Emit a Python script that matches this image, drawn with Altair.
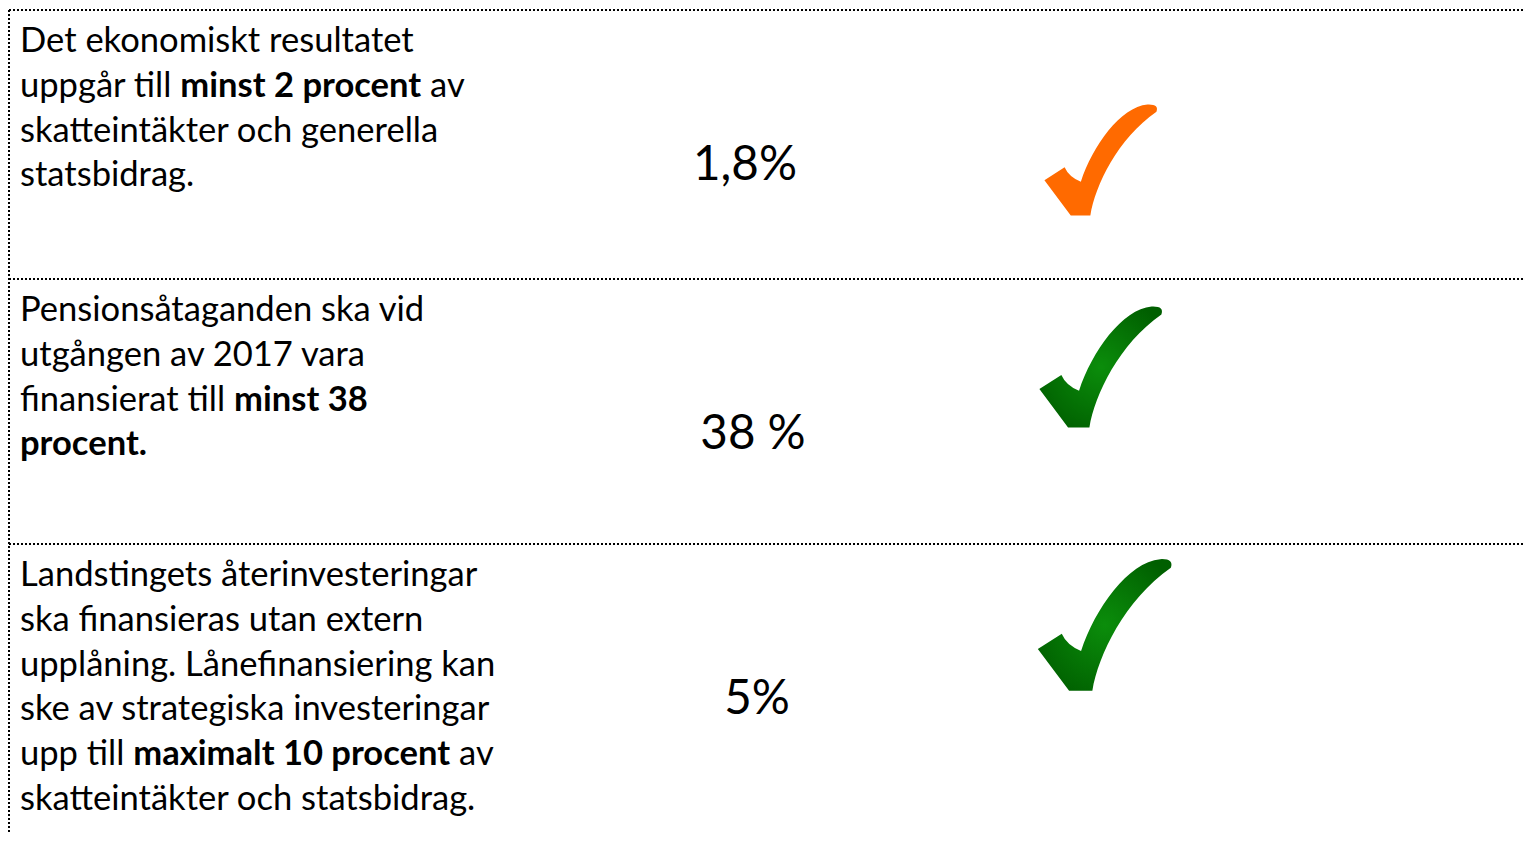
import glob
import os
import altair as alt
import pandas as pd

# ---------------- data ----------------
criterion_1 = ["Det ekonomiskt resultatet",
               "uppgår till **minst 2 procent** av",
               "skatteintäkter och generella",
               "statsbidrag."]
criterion_2 = ["Pensionsåtaganden ska vid",
               "utgången av 2017 vara",
               "finansierat till **minst 38**",
               "**procent.**"]
criterion_3 = ["Landstingets återinvesteringar",
               "ska finansieras utan extern",
               "upplåning. Lånefinansiering kan",
               "ske av strategiska investeringar",
               "upp till **maximalt 10 procent** av",
               "skatteintäkter och statsbidrag."]
criteria = [criterion_1, criterion_2, criterion_3]
outcomes = ["1,8%", "38 %", "5%"]
status = ["delvis uppfyllt", "uppfyllt", "uppfyllt"]

# ---------------- style / layout ----------------
PAGE_MARGIN = 8
W, H = 1531 - 2 * PAGE_MARGIN, 842 - 2 * PAGE_MARGIN
row_top_page = [10, 279, 544]
text_left_page = 20
first_baseline = 42
line_gap = 44.8
value_center_page = [745, 753, 757]
value_baseline = 170
check_center_page = [(1101, 150), (1101, 88), (1105, 81)]
check_width = [112, 122, 133]
ORANGE = "#ff6a00"
GREEN_FILL = alt.RadialGradient(
    gradient="radial", x1=0.5, y1=0.5, x2=0.5, y2=0.5, r1=0, r2=0.6,
    stops=[alt.GradientStop(offset=0, color="#0b8d0b"),
           alt.GradientStop(offset=1, color="#005f00")])
FONT = "Lato"
CHECK = ("M -1.01 0.36 L -0.65 0.13 Q -0.575 0.30 -0.36 0.39 "
         "C -0.15 -0.25 0.35 -0.95 0.83 -0.99 Q 1.04 -1.0 0.99 -0.86 "
         "C 0.30 -0.38 -0.10 0.45 -0.19 0.99 L -0.54 0.99 Z")


def _find(name):
    roots = ["/usr/share/fonts", "/usr/local/share/fonts",
             os.path.expanduser("~/.fonts"), os.path.expanduser("~/.local/share/fonts")]
    for root in roots:
        hits = glob.glob(os.path.join(root, "**", name), recursive=True)
        if hits:
            return hits[0]
    return None


_fonts = None
try:
    from PIL import ImageFont
    _r, _b = _find("Lato-Regular.ttf"), _find("Lato-Bold.ttf")
    if _r and _b:
        _fonts = {False: ImageFont.truetype(_r, 100), True: ImageFont.truetype(_b, 100)}
except Exception:
    _fonts = None


def _fallback(ch):
    if ch in "ijlft.,:;!'| ":
        return 0.25
    if ch in "r":
        return 0.36
    if ch in "sz":
        return 0.42
    if ch in "mw":
        return 0.8
    if ch in "%":
        return 0.85
    if ch.isdigit():
        return 0.58
    if ch.isupper():
        return 0.64
    return 0.53


def text_width(s, bold, size):
    if _fonts:
        return _fonts[bold].getlength(s) * size / 100.0
    return sum(_fallback(c) for c in s) * size * (1.05 if bold else 1.0)


# calibrate font sizes to the reference line widths
_cal = [("Det ekonomiskt resultatet", 391), ("upplåning. Lånefinansiering kan", 478),
        ("skatteintäkter och statsbidrag.", 456)]
TEXT_SIZE = 100 * sum(t for _, t in _cal) / sum(text_width(s, False, 100) for s, _ in _cal)
VALUE_SIZE = 100 * 104 / text_width("1,8%", False, 100)

# ---------------- tables ----------------
seg_rows = []
for r, lines in enumerate(criteria):
    top = row_top_page[r] - PAGE_MARGIN
    for j, line in enumerate(lines):
        y = top + first_baseline + j * line_gap
        x = text_left_page - PAGE_MARGIN
        for k, part in enumerate(line.split("**")):
            if not part:
                continue
            bold = (k % 2 == 1)
            lead = len(part) - len(part.lstrip(" "))
            trail = len(part) - len(part.rstrip(" "))
            body = part.strip(" ")
            x += text_width(" " * lead, bold, TEXT_SIZE)
            seg_rows.append(dict(x=x, y=y, text=body, weight="bold" if bold else "normal"))
            x += text_width(body, bold, TEXT_SIZE) + text_width(" " * trail, bold, TEXT_SIZE)
segs = pd.DataFrame(seg_rows)

vals = pd.DataFrame({
    "x": [c - PAGE_MARGIN for c in value_center_page],
    "y": [t - PAGE_MARGIN + value_baseline for t in row_top_page],
    "text": outcomes,
})

checks = pd.DataFrame({
    "x": [c[0] - PAGE_MARGIN for c in check_center_page],
    "y": [row_top_page[i] - PAGE_MARGIN + check_center_page[i][1] for i in range(3)],
    "status": status,
    "sz": [w * w for w in check_width],
})

sep_rows = [dict(x=1, x2=W, y=t - PAGE_MARGIN, y2=t - PAGE_MARGIN) for t in row_top_page]
sep_rows.append(dict(x=1, x2=1, y=row_top_page[0] - PAGE_MARGIN, y2=H))
seps = pd.DataFrame(sep_rows)

xs = alt.Scale(domain=[0, W], range=[0, W], nice=False, zero=False)
ys = alt.Scale(domain=[0, H], range=[0, H], nice=False, zero=False)

rules = alt.Chart(seps).mark_rule(color="black", strokeWidth=2, strokeDash=[2, 2]).encode(
    x=alt.X("x:Q", scale=xs, axis=None), x2="x2:Q",
    y=alt.Y("y:Q", scale=ys, axis=None), y2="y2:Q")

base_txt = alt.Chart(segs).encode(
    x=alt.X("x:Q", scale=xs, axis=None),
    y=alt.Y("y:Q", scale=ys, axis=None),
    text="text:N")
normal = base_txt.transform_filter("datum.weight == 'normal'").mark_text(
    align="left", baseline="alphabetic", font=FONT, fontSize=TEXT_SIZE, color="black")
bold = base_txt.transform_filter("datum.weight == 'bold'").mark_text(
    align="left", baseline="alphabetic", font=FONT, fontSize=TEXT_SIZE, fontWeight="bold", color="black")

values = alt.Chart(vals).mark_text(
    align="center", baseline="alphabetic", font=FONT, fontSize=VALUE_SIZE, color="black").encode(
    x=alt.X("x:Q", scale=xs, axis=None),
    y=alt.Y("y:Q", scale=ys, axis=None),
    text="text:N")

check_base = alt.Chart(checks).encode(
    x=alt.X("x:Q", scale=xs, axis=None),
    y=alt.Y("y:Q", scale=ys, axis=None),
    size=alt.Size("sz:Q", scale=None, legend=None))
partial_marks = check_base.transform_filter("datum.status == 'delvis uppfyllt'").mark_point(
    shape=CHECK, filled=True, fill=ORANGE, opacity=1, strokeWidth=0)
met_marks = check_base.transform_filter("datum.status == 'uppfyllt'").mark_point(
    shape=CHECK, filled=True, fill=GREEN_FILL, opacity=1, strokeWidth=0)

chart = alt.layer(rules, normal, bold, values, partial_marks, met_marks).properties(
    width=W, height=H, padding=0, background="white",
    autosize=alt.AutoSizeParams(type="none"),
).configure_view(stroke=None)

chart.save("out.html", embed_options={"renderer": "svg", "actions": False})
